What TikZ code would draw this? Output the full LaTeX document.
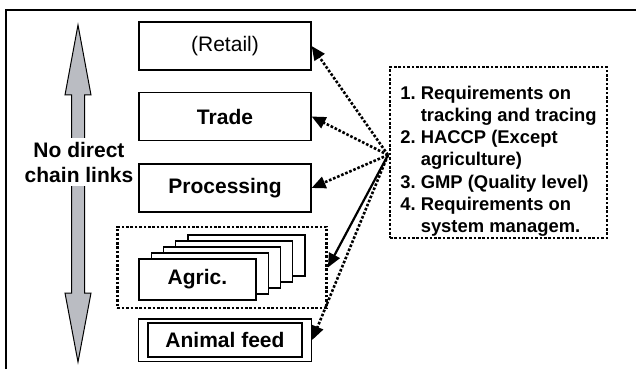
\documentclass[tikz,border=0pt]{standalone}
\usepackage{fontspec}
\setmainfont{Liberation Sans}
\usetikzlibrary{arrows.meta,fit}
\definecolor{arrowgray}{RGB}{186,188,194}
\tikzset{
  stage/.style={rectangle, draw, line width=0.6pt, fill=white, minimum width=86pt, minimum height=24pt, inner sep=0pt, font=\fontsize{10.5}{12.5}\selectfont\bfseries},
  farm/.style={stage, minimum width=58.5pt, minimum height=20.5pt},
  dotbox/.style={draw, line width=1.3pt, dash pattern=on 1.3pt off 0.9pt},
  dotarrow/.style={line width=1.3pt, dash pattern=on 1.3pt off 0.9pt, -{Triangle[length=7pt,width=6pt]}},
  solidarrow/.style={line width=1.1pt, -{Triangle[length=7pt,width=6pt]}},
  bigarrow/.style={draw=black, line width=0.5pt, fill=arrowgray}
}

\begin{document}
\begin{tikzpicture}[x=0.5pt,y=-0.5pt]
  \useasboundingbox (0,0) rectangle (636,369);
  \draw [line width=0.6pt] (6,369) -- (6,10) -- (636,10);

  % no direct links
  \draw [bigarrow] (78,25) -- (91,95) -- (84.5,95) -- (84.5,293) -- (91,293) -- (78,362) -- (65,293) -- (71.5,293) -- (71.5,95) -- (65,95) -- cycle;
  \node [fill=white, align=center, inner sep=2pt, font=\fontsize{10.5}{12.5}\selectfont\bfseries] (nolinks) at (79,162) {No direct\\chain links};

  % chain levels
  \node [stage, font=\fontsize{10.5}{12.5}\selectfont] (retail) at (225,46) {(Retail)};
  \node [stage] (trade) at (225,116.5) {Trade};
  \node [stage] (proc) at (225,188) {Processing};
  \foreach \i in {4,3,2,1}
    \node [farm] (agri\i) at (197.5+12.25*\i, 279.5-6*\i) {};
  \node [farm] (agri0) at (197.5,279.5) {Agric.};
  \node [dotbox, fit=(agri0)(agri4), inner xsep=10.5pt, inner ysep=3.75pt] (agri) {};
  \node [stage, minimum width=77pt, minimum height=17pt] (feedin) at (225,340) {Animal feed};
  \node [draw, line width=0.6pt, fit=(feedin), inner xsep=4.5pt, inner ysep=1.75pt] (feed) {};

  % requirements
  \node [dotbox, inner sep=0pt, minimum width=108.5pt, minimum height=85.5pt, font=\fontsize{9.2}{11.1}\selectfont\bfseries] (rules) at (498.5,152.5)
    {\raisebox{-4.5pt}[\height][\depth]{\begin{tabular}{@{}l@{}}
      1.~Requirements on\\\hspace*{10.2pt}tracking and tracing\\
      2.~HACCP (Except\\\hspace*{10.2pt}agriculture)\\
      3.~GMP (Quality level)\\
      4.~Requirements on\\\hspace*{10.2pt}system managem.
    \end{tabular}}};
  \coordinate (hub) at (388,155);

  \draw [dotarrow] (hub) -- (retail.east);
  \draw [dotarrow] (hub) -- (trade.east);
  \draw [dotarrow] (hub) -- (proc.east);
  \draw [solidarrow] (hub) -- (agri.east);
  \draw [dotarrow] (hub) -- (feed.east);
\end{tikzpicture}
\end{document}
